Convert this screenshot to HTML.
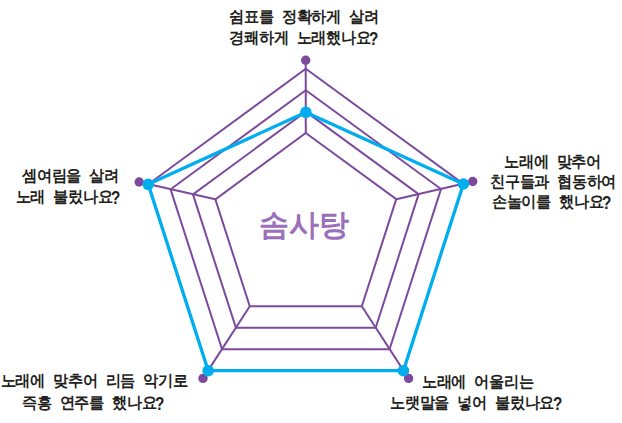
<!DOCTYPE html>
<html><head><meta charset="utf-8"><style>
html,body{margin:0;padding:0;background:#fff;width:622px;height:423px;overflow:hidden}
body{position:relative;font-family:"Liberation Sans",sans-serif}
svg{position:absolute;left:0;top:0}
.l{position:absolute;font-size:15px;line-height:20px;font-weight:bold;color:#231f20;white-space:nowrap;word-spacing:4.3px;letter-spacing:-0.25px;transform:scaleY(1.05);transform-origin:50% 50%}
.q{display:inline-block;font-size:18px;font-weight:bold;line-height:10px;margin-left:-1px;position:relative;top:1.5px;transform:scaleX(0.85);transform-origin:0 50%}
.t{position:absolute;left:259px;top:205px;font-size:30px;line-height:40px;font-weight:bold;color:#9b6fba;white-space:nowrap}
</style></head><body>
<svg width="622" height="423" viewBox="0 0 622 423">
<polygon points="305.80,68.80 463.40,184.00 403.40,370.70 208.20,370.70 148.20,184.30" fill="none" stroke="#7b4a9e" stroke-width="2"/>
<polygon points="305.80,90.21 441.02,189.06 389.54,349.24 222.06,349.24 170.58,189.31" fill="none" stroke="#7b4a9e" stroke-width="2"/>
<polygon points="305.80,111.63 418.64,194.11 375.68,327.79 235.92,327.79 192.96,194.33" fill="none" stroke="#7b4a9e" stroke-width="2"/>
<polygon points="305.80,133.04 396.26,199.17 361.82,306.33 249.78,306.33 215.34,199.34" fill="none" stroke="#7b4a9e" stroke-width="2"/>
<line x1="305.70" y1="60.30" x2="305.80" y2="133.04" stroke="#7b4a9e" stroke-width="2"/>
<line x1="472.70" y1="181.50" x2="396.26" y2="199.17" stroke="#7b4a9e" stroke-width="2"/>
<line x1="408.60" y1="378.40" x2="361.82" y2="306.33" stroke="#7b4a9e" stroke-width="2"/>
<line x1="203.00" y1="378.40" x2="249.78" y2="306.33" stroke="#7b4a9e" stroke-width="2"/>
<line x1="139.20" y1="182.00" x2="215.34" y2="199.34" stroke="#7b4a9e" stroke-width="2"/>
<circle cx="305.7" cy="60.3" r="4.7" fill="#7b4a9e"/>
<circle cx="472.7" cy="181.5" r="4.7" fill="#7b4a9e"/>
<circle cx="408.6" cy="378.4" r="4.7" fill="#7b4a9e"/>
<circle cx="203.0" cy="378.4" r="4.7" fill="#7b4a9e"/>
<circle cx="139.2" cy="182.0" r="4.7" fill="#7b4a9e"/>
<polygon points="305.85,112.30 463.40,184.00 403.40,370.70 208.20,370.70 148.20,184.30" fill="none" stroke="#00aeef" stroke-width="3.3" stroke-linejoin="round"/>
<circle cx="305.85" cy="112.30" r="5.8" fill="#00aeef"/>
<circle cx="463.40" cy="184.00" r="5.8" fill="#00aeef"/>
<circle cx="403.40" cy="370.70" r="5.8" fill="#00aeef"/>
<circle cx="208.20" cy="370.70" r="5.8" fill="#00aeef"/>
<circle cx="148.20" cy="184.30" r="5.8" fill="#00aeef"/>
</svg>
<div class="l" style="left:229.4px;top:7.1px">쉼표를 정확하게 살려</div>
<div class="l" style="left:229.4px;top:28.1px">경쾌하게 노래했나요<span class="q">?</span></div>
<div class="l" style="left:22.1px;top:166.1px">셈여림을 살려</div>
<div class="l" style="left:15.6px;top:187.0px">노래 불렀나요<span class="q">?</span></div>
<div class="l" style="left:504.1px;top:152.0px">노래에 맞추어</div>
<div class="l" style="left:490.0px;top:171.9px">친구들과 협동하여</div>
<div class="l" style="left:491.8px;top:192.3px">손놀이를 했나요<span class="q">?</span></div>
<div class="l" style="left:0.6px;top:371.2px">노래에 맞추어 리듬 악기로</div>
<div class="l" style="left:21.9px;top:392.7px">즉흥 연주를 했나요<span class="q">?</span></div>
<div class="l" style="left:421.9px;top:372.4px">노래에 어울리는</div>
<div class="l" style="left:390.2px;top:393.4px">노랫말을 넣어 불렀나요<span class="q">?</span></div>
<div class="t">솜사탕</div>
</body></html>
